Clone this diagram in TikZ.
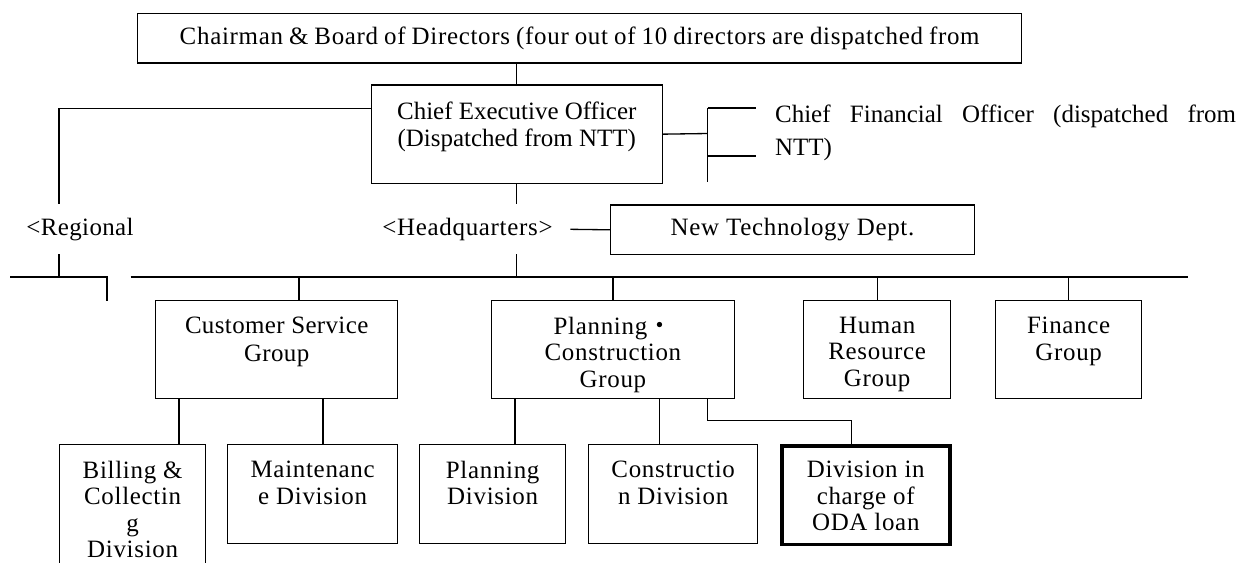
\documentclass[tikz,border=0pt]{standalone}
\usepackage{fontspec}
\setmainfont{Liberation Serif}[LetterSpace=2.8]
\newfontfamily\cjk{Noto Sans CJK JP}
\usetikzlibrary{calc}

\tikzset{
  orgbox/.style 2 args={draw, anchor=north west, inner sep=0pt,
    minimum width=#1*0.02cm, minimum height=#2*0.02cm},
  boxtext/.style={anchor=north, align=center, inner sep=0pt, yshift=-0.33cm},
  tag/.style={inner xsep=0.34cm, inner ysep=0.26cm}
}

\begin{document}
\begin{tikzpicture}[x=0.02cm, y=-0.02cm, line width=0.75pt,
    font=\fontsize{14.2pt}{15pt}\selectfont]
  \clip (0,0) rectangle (1244,562);

  % board, CEO and CFO
  \node[orgbox={884}{49.6}] (chair) at (137,12.7)
    {\makebox[16cm][s]{Chairman \& Board of Directors (four out of 10 directors are dispatched from}};
  \node[orgbox={291}{98.4}] (ceo) at (370.6,84.3) {};
  \node[boxtext, font=\fontsize{14.2pt}{15.8pt}\selectfont\addfontfeature{LetterSpace=0}] (ceo-t) at (ceo.north)
    {Chief Executive Officer\\(Dispatched from NTT)};
  \node[anchor=north west, inner sep=0pt, align=left,
    font=\fontsize{14.2pt}{18.8pt}\selectfont\addfontfeature{LetterSpace=0}] (cfo) at (774.5,104)
    {\makebox[9.22cm][s]{Chief Financial Officer (dispatched from}\\NTT)};

  \node[tag, font=\fontsize{14.2pt}{15pt}\selectfont\addfontfeature{LetterSpace=1.5}] (reg) at (80,229.3) {<Regional};
  \node[tag] (hq) at (467.5,229.3) {<Headquarters>};
  \node[orgbox={363.7}{49.7}] (ntd) at (610,204.3) {New Technology Dept.};

  % groups
  \node[orgbox={242}{98}] (csg) at (155,300) {};
  \node[boxtext, font=\fontsize{14.2pt}{15.6pt}\selectfont\addfontfeature{LetterSpace=1.5}] (csg-t) at (csg.north)
    {Customer Service\\Group};
  \node[orgbox={242.5}{98}] (pcg) at (491,300) {};
  \node[boxtext] (pcg-t) at (pcg.north) {Planning{\cjk ・}\\Construction\\Group};
  \node[orgbox={147}{98}] (hrg) at (803,300) {};
  \node[boxtext] (hrg-t) at (hrg.north) {Human\\Resource\\Group};
  \node[orgbox={146}{98}] (fg) at (995,300) {};
  \node[boxtext] (fg-t) at (fg.north) {Finance\\Group};

  % divisions
  \node[orgbox={146}{140}] (bill) at (59,444) {};
  \node[boxtext] (bill-t) at (bill.north) {Billing \&\\Collectin\\g\\Division};
  \node[orgbox={170}{99}] (mnt) at (227,444) {};
  \node[boxtext] (mnt-t) at (mnt.north) {Maintenanc\\e Division};
  \node[orgbox={146}{99}] (pld) at (419,444) {};
  \node[boxtext] (pld-t) at (pld.north) {Planning\\Division};
  \node[orgbox={169}{99}] (cnd) at (588,444) {};
  \node[boxtext] (cnd-t) at (cnd.north) {Constructio\\n Division};
  \node[orgbox={168}{98.5}, line width=2pt] (oda) at (780,444) {};
  \node[boxtext] (oda-t) at (oda.north) {Division in\\charge of\\ODA loan};

  \coordinate (regx) at (59,277);
  \coordinate (busW) at (10,277);
  \coordinate (busWend) at (107,300.7);
  \coordinate (busA) at (130.6,277);
  \coordinate (busB) at (1188,277);
  \coordinate (fork) at (707.6,133.5);

  % top connectors
  \draw (chair.south -| ceo.north) -- (ceo.north);
  \draw ($(ceo.north west)+(0,24)$) -| (reg.north -| regx);
  \draw (reg.south -| regx) -- (regx);
  \draw (busW) -| (busWend);
  \draw (busA) -- (busB);
  \draw (ceo.south) -- (hq.north -| ceo.south);
  \draw (hq.south -| ceo.south) -- (busA -| ceo.south);
  \draw (hq.east) -- (ntd.west);
  \draw (ceo.east) -- (fork);
  \draw ($(fork)+(0,-25.5)$) -- ($(fork)+(0,48.5)$);
  \draw ($(fork)+(0,-25.5)$) -- ++(48.4,0);
  \draw ($(fork)+(0,22.5)$) -- ++(48.4,0);

  % groups hang from the bus
  \coordinate (csg-in) at ($(csg.north west)+(144,0)$);
  \draw (csg-in) -- (csg-in |- busA);
  \foreach \g in {pcg, hrg, fg}
    \draw (\g.north) -- (\g.north |- busA);

  % divisions hang from their groups
  \coordinate (bill-in) at ($(bill.north west)+(120,0)$);
  \coordinate (mnt-in) at ($(mnt.north west)+(96,0)$);
  \coordinate (pld-in) at ($(pld.north west)+(96,0)$);
  \coordinate (cnd-in) at ($(cnd.north west)+(71.5,0)$);
  \coordinate (oda-in) at ($(oda.north west)+(71.3,0)$);
  \draw (bill-in) -- (bill-in |- csg.south);
  \draw (mnt-in) -- (mnt-in |- csg.south);
  \draw (pld-in) -- (pld-in |- pcg.south);
  \draw (cnd-in) -- (cnd-in |- pcg.south);
  \draw ($(pcg.south west)+(216.6,0)$) |- ($(oda-in)+(0,-23.3)$) -- (oda-in);
\end{tikzpicture}
\end{document}
